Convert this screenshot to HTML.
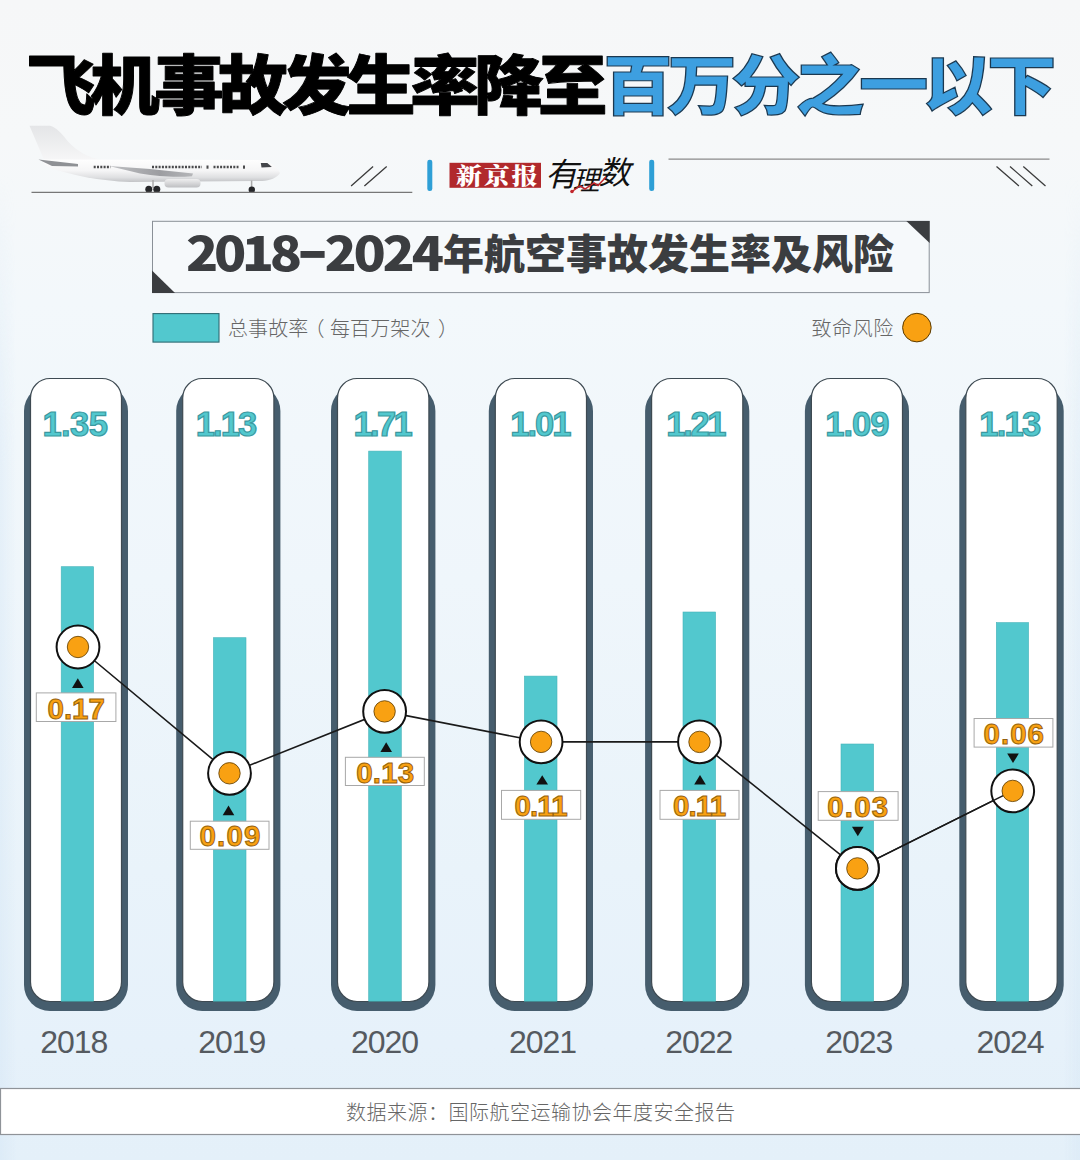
<!DOCTYPE html>
<html lang="zh-CN"><head><meta charset="utf-8"><title>飞机事故发生率降至百万分之一以下</title>
<style>
html,body{margin:0;padding:0;}
body{width:1080px;height:1160px;overflow:hidden;background:#eef4fa;}
svg{display:block}
text{font-family:"Liberation Sans","Noto Sans CJK SC",sans-serif;}
.title{font-family:"Noto Sans CJK SC",sans-serif;font-weight:900;font-size:64px;letter-spacing:-5.02px;}
.sub{font-family:"Noto Sans CJK SC",sans-serif;font-weight:900;font-size:41px;fill:#3b3d40;}
.val{font-family:"Liberation Sans",sans-serif;font-weight:bold;font-size:34.5px;fill:#52c8ce;stroke:#3a98a0;stroke-width:1.2;text-anchor:middle;letter-spacing:-2.6px;}
.risk{font-family:"Liberation Sans",sans-serif;font-weight:bold;font-size:29.5px;fill:#f9a112;stroke:#96620e;stroke-width:1;text-anchor:middle;letter-spacing:-1.8px;}
.year{font-family:"Liberation Sans",sans-serif;font-size:32px;fill:#555a60;text-anchor:middle;letter-spacing:-1px;}
.leg{font-family:"Noto Sans CJK SC",sans-serif;font-weight:300;font-size:20px;fill:#666;letter-spacing:0.1px;}
.src{font-family:"Noto Sans CJK SC",sans-serif;font-weight:300;font-size:20px;fill:#666;letter-spacing:0.42px;}
</style></head><body>
<svg width="1080" height="1160" viewBox="0 0 1080 1160">
<defs>
<linearGradient id="bg" x1="0" y1="0" x2="0" y2="1">
<stop offset="0" stop-color="#f6f7f8"/><stop offset="0.120" stop-color="#f6f8f9"/><stop offset="0.260" stop-color="#f3f8fb"/><stop offset="0.500" stop-color="#eff6fb"/><stop offset="0.750" stop-color="#e9f3fa"/><stop offset="0.900" stop-color="#e6f1fa"/><stop offset="1" stop-color="#e4f0f9"/>
</linearGradient>
<linearGradient id="fus" x1="0" y1="0" x2="0" y2="1">
<stop offset="0" stop-color="#fefefe"/><stop offset="0.5" stop-color="#f5f5f6"/><stop offset="0.8" stop-color="#dedfe1"/><stop offset="1" stop-color="#c2c3c6"/>
</linearGradient>
<linearGradient id="fin" x1="0" y1="0" x2="0" y2="1">
<stop offset="0" stop-color="#e4e5e7"/><stop offset="1" stop-color="#f6f6f7"/>
</linearGradient>
<linearGradient id="wing" x1="0" y1="0" x2="1" y2="0">
<stop offset="0" stop-color="#bfc0c3"/><stop offset="0.6" stop-color="#9c9da1"/><stop offset="1" stop-color="#b5b6b9"/>
</linearGradient>
<linearGradient id="eng" x1="0" y1="0" x2="0" y2="1">
<stop offset="0" stop-color="#efeff0"/><stop offset="1" stop-color="#bebfc2"/>
</linearGradient>
<linearGradient id="vf" x1="0" y1="0" x2="0" y2="1"><stop offset="0.150" stop-color="#000"/><stop offset="0.400" stop-color="#fff"/><stop offset="1" stop-color="#fff"/></linearGradient>
<mask id="vfade" maskUnits="userSpaceOnUse" x="0" y="0" width="1080" height="1160"><rect width="1080" height="1160" fill="url(#vf)"/></mask>
<linearGradient id="edge" x1="0" y1="0" x2="1" y2="0">
<stop offset="0" stop-color="#cfe2f3" stop-opacity="0.350"/><stop offset="0.015" stop-color="#cfe2f3" stop-opacity="0"/><stop offset="0.985" stop-color="#cfe2f3" stop-opacity="0"/><stop offset="1" stop-color="#cfe2f3" stop-opacity="0.300"/>
</linearGradient>
</defs>
<rect width="1080" height="1160" fill="url(#bg)"/>
<rect y="0" width="1080" height="1160" fill="url(#edge)" mask="url(#vfade)"/>
<!-- TITLE -->
<text transform="translate(26.3 109.300) scale(1.085 1.02)" class="title" fill="#000" stroke="#000" stroke-width="0.9" stroke-linejoin="round">飞机事故发生率降至</text>
<text transform="translate(603.2 109.300) scale(1.085 1.02)" class="title" fill="#3d9fe0" stroke="#1b3850" stroke-width="1.2">百万分之一以下</text>
<!-- PLANE -->
<g id="plane">
<path d="M29.500 125.800 L50 125.800 C56 127 62 134 68 141.500 C78 152 88 157.500 102 159.800 L44 159.800 Z" fill="url(#fin)"/>
<path d="M44 159.500 L258 160 C268 160.500 277 166 280 173 C277 178 270 180.500 262 181 L130 182 C100 181 70 175 48 167 C44 165 42 162 44 159.500 Z" fill="url(#fus)"/>
<path d="M38.500 159.500 L78 164 L78 166.600 L52 166 Z" fill="#8f9195"/>
<path d="M109 166 L150 169 L193 173.500 L192 176.200 C175 177.500 160 176.500 140 173.500 Z" fill="url(#wing)"/>
<rect x="164.500" y="179" width="36" height="8.400" rx="4" fill="url(#eng)"/>
<line x1="93.700" y1="167" x2="110.500" y2="167" stroke="#4a4a4c" stroke-width="2.600" stroke-dasharray="2 1.300"/>
<line x1="152" y1="167" x2="202" y2="167" stroke="#4a4a4c" stroke-width="2.600" stroke-dasharray="2 1.300"/>
<line x1="213.500" y1="167" x2="238.500" y2="167" stroke="#4a4a4c" stroke-width="2.600" stroke-dasharray="2 1.300"/>
<rect x="206.500" y="165.500" width="2" height="3.200" fill="#4a4a4c"/><rect x="243" y="165.500" width="2" height="3.200" fill="#4a4a4c"/>
<path d="M260.800 163.100 L267.300 163.100 L271.900 167 L261.500 167.600 Z" fill="#44464a"/>
<line x1="153" y1="180" x2="153" y2="188" stroke="#aaa" stroke-width="1.500"/>
<line x1="251.600" y1="180.500" x2="251.600" y2="188" stroke="#aaa" stroke-width="1.500"/>
<circle cx="148.800" cy="189.300" r="3.500" fill="#26272a"/><circle cx="156.800" cy="189.300" r="3.500" fill="#26272a"/><circle cx="251.800" cy="189.700" r="3.200" fill="#26272a"/>
</g>
<line x1="31.500" y1="192.300" x2="412.300" y2="192.300" stroke="#777" stroke-width="1.300"/>
<path d="M351.100 186.100 L373.100 166.400 M364.400 186.100 L386.700 166.400" stroke="#3c3c3c" stroke-width="1.300" fill="none"/>
<!-- LOGO -->
<rect x="427.300" y="159.800" width="5" height="31.300" rx="2.300" fill="#2e9fd6"/>
<rect x="649.200" y="159.800" width="5" height="31.300" rx="2.300" fill="#2e9fd6"/>
<rect x="449.500" y="162.800" width="91.500" height="25" fill="#b1292c"/>
<text transform="translate(456 183.800) scale(1.04 0.910)" style="font-family:'Noto Serif CJK SC',serif;font-weight:900;font-size:25px;letter-spacing:1.700px" fill="#fff">新京报</text>
<g style="font-family:'Noto Sans CJK SC',sans-serif;font-weight:400" fill="#111">
<text transform="translate(545 185.500) skewX(-14)" style="font-size:32.500px">有</text>
<text transform="translate(572.5 190) skewX(-14)" style="font-size:27px">理</text>
<text transform="translate(598.5 184) skewX(-14)" style="font-size:32px">数</text>
</g>
<path d="M572 191.500 L580 186 L585 189 L594 183 L598 185.500 L606 177" stroke="#c2272d" stroke-width="1.500" fill="none"/>
<circle cx="572" cy="191.500" r="1.800" fill="#c2272d"/>
<line x1="668.500" y1="159.100" x2="1049.500" y2="159.100" stroke="#8a8a8a" stroke-width="1.100"/>
<path d="M996.500 166.500 L1018.900 186 M1010 166.500 L1032.300 186 M1023.300 166.500 L1045.500 186" stroke="#3c3c3c" stroke-width="1.300" fill="none"/>
<!-- SUBTITLE -->
<rect x="152.500" y="221.300" width="776.700" height="71.300" fill="#f6f9fb" stroke="#8a9097" stroke-width="1"/>
<path d="M152 270.500 L175 293 L152 293 Z" fill="#3b3d40"/>
<path d="M906.300 221 L929.600 221 L929.600 243 Z" fill="#3b3d40"/>
<text transform="translate(186 271.200) scale(1.13 1)" class="sub" style="font-size:47px;letter-spacing:-3.9px">2018</text>
<text transform="translate(296.300 270.100) scale(1.55 1)" class="sub" style="font-size:55px">-</text>
<text transform="translate(324.500 271.200) scale(1.13 1)" class="sub" style="font-size:47px;letter-spacing:-2.9px">2024</text>
<text x="443" y="269" class="sub" style="font-size:41px;letter-spacing:0px">年航空事故发生率及风险</text>
<!-- LEGEND -->
<rect x="153" y="313.600" width="66" height="28.500" fill="#52c8ce" stroke="#2f6b73" stroke-width="1.100"/>
<text x="228" y="335.500" class="leg">总事故率<tspan dx="-4">（</tspan><tspan dx="5.500">每百万架次</tspan><tspan dx="7.500">）</tspan></text>
<text x="811.500" y="335.500" class="leg" style="letter-spacing:0.6px">致命风险</text>
<circle cx="916.900" cy="327.600" r="14.300" fill="#f9a112" stroke="#5a3a00" stroke-width="1"/>
<!-- CHART -->
<rect x="24.00" y="385" width="104.00" height="626" rx="26" fill="#465d6d"/>
<rect x="30.50" y="378.5" width="91.00" height="623" rx="19.5" fill="#fff" stroke="#3e4a52" stroke-width="1.200"/>
<rect x="61.20" y="566.7" width="32.40" height="434.5" fill="#52c8ce" stroke="#47b3b9" stroke-width="0.6"/>
<text x="74.90" y="436.2" class="val" style="letter-spacing:-0.60px">1.35</text>
<text x="73.75" y="1052.5" class="year">2018</text>
<rect x="176.20" y="385" width="104.20" height="626" rx="26" fill="#465d6d"/>
<rect x="182.70" y="378.5" width="91.20" height="623" rx="19.5" fill="#fff" stroke="#3e4a52" stroke-width="1.200"/>
<rect x="213.40" y="637.7" width="32.60" height="363.5" fill="#52c8ce" stroke="#47b3b9" stroke-width="0.6"/>
<text x="225.50" y="436.2" class="val" style="letter-spacing:-1.93px">1.13</text>
<text x="231.75" y="1052.5" class="year">2019</text>
<rect x="331.00" y="385" width="104.40" height="626" rx="26" fill="#465d6d"/>
<rect x="337.50" y="378.5" width="91.40" height="623" rx="19.5" fill="#fff" stroke="#3e4a52" stroke-width="1.200"/>
<rect x="368.70" y="451.1" width="32.60" height="550.1" fill="#52c8ce" stroke="#47b3b9" stroke-width="0.6"/>
<text x="381.75" y="436.2" class="val" style="letter-spacing:-2.60px">1.71</text>
<text x="384.50" y="1052.5" class="year">2020</text>
<rect x="488.80" y="385" width="104.20" height="626" rx="26" fill="#465d6d"/>
<rect x="495.30" y="378.5" width="91.20" height="623" rx="19.5" fill="#fff" stroke="#3e4a52" stroke-width="1.200"/>
<rect x="524.40" y="676.1" width="32.60" height="325.1" fill="#52c8ce" stroke="#47b3b9" stroke-width="0.6"/>
<text x="539.90" y="436.2" class="val" style="letter-spacing:-1.93px">1.01</text>
<text x="542.50" y="1052.5" class="year">2021</text>
<rect x="645.10" y="385" width="104.20" height="626" rx="26" fill="#465d6d"/>
<rect x="651.60" y="378.5" width="91.20" height="623" rx="19.5" fill="#fff" stroke="#3e4a52" stroke-width="1.200"/>
<rect x="683.00" y="612.0" width="32.60" height="389.2" fill="#52c8ce" stroke="#47b3b9" stroke-width="0.6"/>
<text x="695.20" y="436.2" class="val" style="letter-spacing:-2.33px">1.21</text>
<text x="698.75" y="1052.5" class="year">2022</text>
<rect x="804.90" y="385" width="104.10" height="626" rx="26" fill="#465d6d"/>
<rect x="811.40" y="378.5" width="91.10" height="623" rx="19.5" fill="#fff" stroke="#3e4a52" stroke-width="1.200"/>
<rect x="841.00" y="744.0" width="32.60" height="257.2" fill="#52c8ce" stroke="#47b3b9" stroke-width="0.6"/>
<text x="856.80" y="436.2" class="val" style="letter-spacing:-1.00px">1.09</text>
<text x="858.75" y="1052.5" class="year">2023</text>
<rect x="959.30" y="385" width="104.40" height="626" rx="26" fill="#465d6d"/>
<rect x="965.80" y="378.5" width="91.40" height="623" rx="19.5" fill="#fff" stroke="#3e4a52" stroke-width="1.200"/>
<rect x="996.30" y="622.6" width="32.30" height="378.6" fill="#52c8ce" stroke="#47b3b9" stroke-width="0.6"/>
<text x="1009.30" y="436.2" class="val" style="letter-spacing:-1.73px">1.13</text>
<text x="1010.00" y="1052.5" class="year">2024</text>
<polyline points="78.0,647.0 229.5,773.3 384.6,711.4 541.1,741.9 699.5,741.9 857.4,868.4 1012.7,790.9" fill="none" stroke="#1a1a1a" stroke-width="1.6"/>
<circle cx="78.0" cy="647.0" r="21.4" fill="#fff" stroke="#111" stroke-width="2"/>
<circle cx="78.0" cy="647.0" r="10.7" fill="#f9a112" stroke="#5a3a00" stroke-width="0.8"/>
<path d="M72.0 687.9 L83.6 687.9 L77.8 678.2 Z" fill="#111"/>
<rect x="36.3" y="692.9" width="79.6" height="28.6" fill="#fff" stroke="#a8a8a8" stroke-width="1"/>
<text x="76.20" y="718.5" class="risk" style="letter-spacing:0.00px">0.17</text>
<circle cx="229.5" cy="773.3" r="21.4" fill="#fff" stroke="#111" stroke-width="2"/>
<circle cx="229.5" cy="773.3" r="10.7" fill="#f9a112" stroke="#5a3a00" stroke-width="0.8"/>
<path d="M222.7 815.3 L234.3 815.3 L228.5 805.6 Z" fill="#111"/>
<rect x="190.3" y="821.2" width="78.7" height="28.1" fill="#fff" stroke="#a8a8a8" stroke-width="1"/>
<text x="230.55" y="845.9" class="risk" style="letter-spacing:1.20px">0.09</text>
<circle cx="384.6" cy="711.4" r="21.4" fill="#fff" stroke="#111" stroke-width="2"/>
<circle cx="384.6" cy="711.4" r="10.7" fill="#f9a112" stroke="#5a3a00" stroke-width="0.8"/>
<path d="M380.4 751.9 L392.0 751.9 L386.2 742.2 Z" fill="#111"/>
<rect x="345.4" y="757.3" width="78.9" height="28.2" fill="#fff" stroke="#a8a8a8" stroke-width="1"/>
<text x="385.25" y="782.5" class="risk" style="letter-spacing:0.20px">0.13</text>
<circle cx="541.1" cy="741.9" r="21.4" fill="#fff" stroke="#111" stroke-width="2"/>
<circle cx="541.1" cy="741.9" r="10.7" fill="#f9a112" stroke="#5a3a00" stroke-width="0.8"/>
<path d="M536.4 784.5 L548.0 784.5 L542.2 775.2 Z" fill="#111"/>
<rect x="501.5" y="790.4" width="79.2" height="28.9" fill="#fff" stroke="#a8a8a8" stroke-width="1"/>
<text x="540.60" y="815.9" class="risk" style="letter-spacing:-0.93px">0.11</text>
<circle cx="699.5" cy="741.9" r="21.4" fill="#fff" stroke="#111" stroke-width="2"/>
<circle cx="699.5" cy="741.9" r="10.7" fill="#f9a112" stroke="#5a3a00" stroke-width="0.8"/>
<path d="M694.2 784.5 L705.8 784.5 L700.0 774.9 Z" fill="#111"/>
<rect x="660.0" y="790.4" width="79.0" height="28.9" fill="#fff" stroke="#a8a8a8" stroke-width="1"/>
<text x="699.10" y="815.9" class="risk" style="letter-spacing:-0.87px">0.11</text>
<circle cx="857.4" cy="868.4" r="21.4" fill="#fff" stroke="#111" stroke-width="2"/>
<circle cx="857.4" cy="868.4" r="10.7" fill="#f9a112" stroke="#5a3a00" stroke-width="0.8"/>
<path d="M852.0 826.7 L863.6 826.7 L857.8 836.3 Z" fill="#111"/>
<rect x="818.2" y="791.6" width="79.9" height="28.7" fill="#fff" stroke="#a8a8a8" stroke-width="1"/>
<text x="858.25" y="816.7" class="risk" style="letter-spacing:1.20px">0.03</text>
<circle cx="1012.7" cy="790.9" r="21.4" fill="#fff" stroke="#111" stroke-width="2"/>
<line x1="857.4" y1="868.4" x2="1012.7" y2="790.9" stroke="#1a1a1a" stroke-width="1.6"/>
<circle cx="857.4" cy="868.4" r="21.4" fill="#fff" stroke="#111" stroke-width="2"/>
<circle cx="857.4" cy="868.4" r="10.7" fill="#f9a112" stroke="#5a3a00" stroke-width="0.8"/>
<circle cx="1012.7" cy="790.9" r="10.7" fill="#f9a112" stroke="#5a3a00" stroke-width="0.8"/>
<path d="M1007.2 753.6 L1018.8 753.6 L1013.0 763.0 Z" fill="#111"/>
<rect x="974.1" y="718.5" width="78.8" height="28.6" fill="#fff" stroke="#a8a8a8" stroke-width="1"/>
<text x="1014.30" y="743.7" class="risk" style="letter-spacing:1.00px">0.06</text>
<!-- FOOTER -->
<rect x="0.500" y="1088.500" width="1090" height="46" fill="#fff" stroke="#8f9398" stroke-width="1.200"/>
<text x="346" y="1120" class="src" style="letter-spacing:0.5px">数据来源：国际航空运输协会年度安全报告</text>
</svg>
</body></html>
